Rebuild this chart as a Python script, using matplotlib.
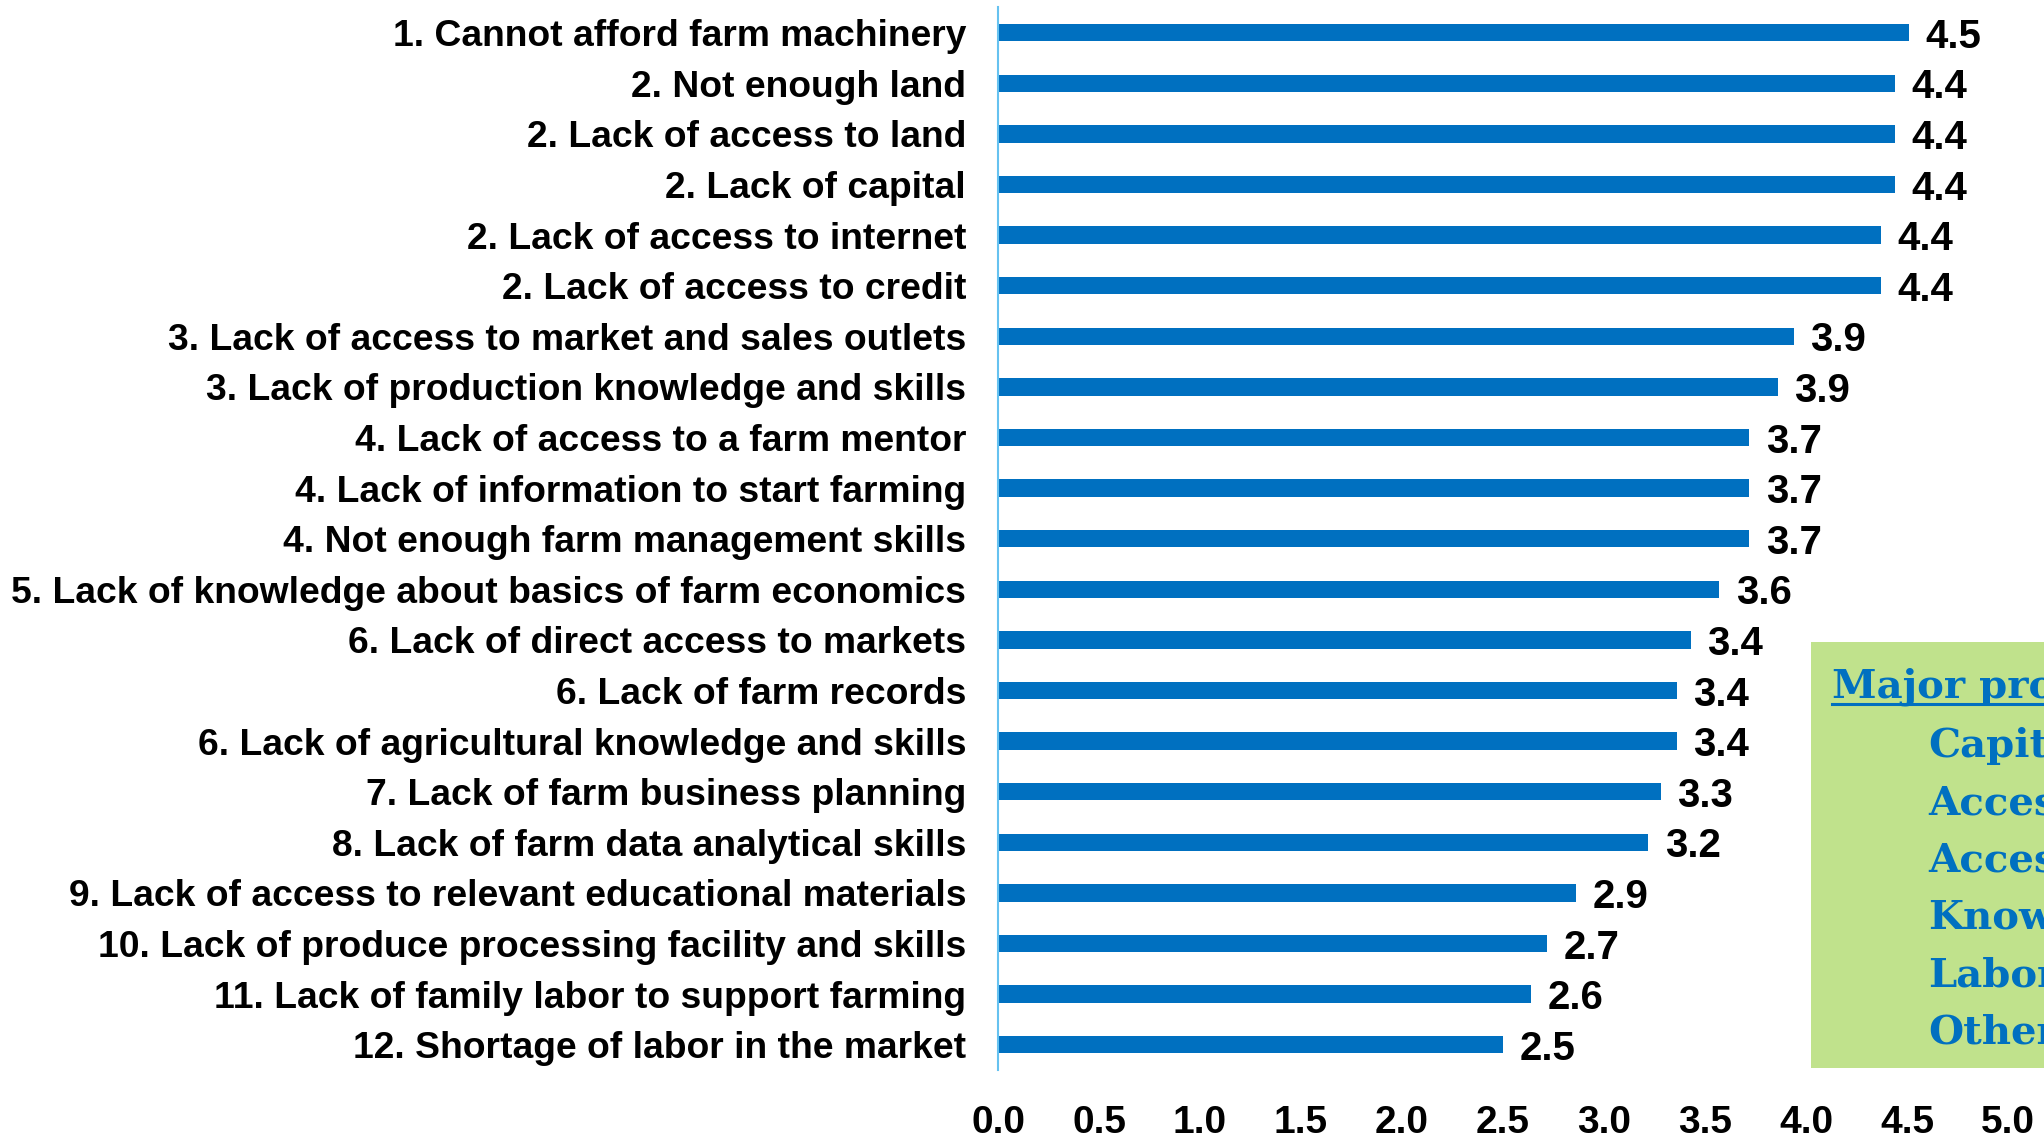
import matplotlib
matplotlib.use("Agg")
import matplotlib.pyplot as plt
from matplotlib.patches import Rectangle
from matplotlib.lines import Line2D

# Mean severity score for each barrier to starting a farm (ranked)
categories = [
    "1. Cannot afford farm machinery",
    "2. Not enough land",
    "2. Lack of access to land",
    "2. Lack of capital",
    "2. Lack of access to internet",
    "2. Lack of access to credit",
    "3. Lack of access to market and sales outlets",
    "3. Lack of production knowledge and skills",
    "4. Lack of access to a farm mentor",
    "4. Lack of information to start farming",
    "4. Not enough farm management skills",
    "5. Lack of knowledge about basics of farm economics",
    "6. Lack of direct access to markets",
    "6. Lack of farm records",
    "6. Lack of agricultural knowledge and skills",
    "7. Lack of farm business planning",
    "8. Lack of farm data analytical skills",
    "9. Lack of access to relevant educational materials",
    "10. Lack of produce processing facility and skills",
    "11. Lack of family labor to support farming",
    "12. Shortage of labor in the market",
]
scores = [4.51, 4.44, 4.44, 4.44, 4.37, 4.37, 3.94, 3.86, 3.72, 3.72, 3.72,
          3.57, 3.43, 3.36, 3.36, 3.28, 3.22, 2.86, 2.72, 2.64, 2.50]
x_ticks = [0.0, 0.5, 1.0, 1.5, 2.0, 2.5, 3.0, 3.5, 4.0, 4.5, 5.0]

box_title = "Major problem categories:"
box_items = ["Capital", "Access to land", "Access to market",
             "Knowledge", "Labor", "Others"]

W, H = 2044, 1138
fig = plt.figure(figsize=(W / 100, H / 100), dpi=100)
ax = fig.add_axes([998 / W, 1 - 1070 / H, 1010 / W, 1062.6 / H])

bar_blue = "#0070C0"
ypos = list(range(len(categories)))
ax.barh(ypos, scores, height=0.34, color=bar_blue)

ax.set_xlim(0, 5)
ax.set_ylim(len(categories) - 0.5, -0.5)
ax.set_xticks(x_ticks)
ax.set_xticklabels([f"{t:.1f}" for t in x_ticks], fontsize=28,
                   fontweight="bold", family="Liberation Sans")
ax.set_yticks(ypos)
ax.set_yticklabels(categories, fontsize=26.8, fontweight="bold",
                   family="Liberation Sans")
ax.tick_params(axis="x", length=0, pad=25)
ax.tick_params(axis="y", length=0, pad=23)

for side in ("top", "right", "bottom"):
    ax.spines[side].set_visible(False)
ax.spines["left"].set_color("#66C2F0")
ax.spines["left"].set_linewidth(1.5)

for y, v in zip(ypos, scores):
    ax.annotate(f"{v:.1f}", xy=(v, y), xytext=(12, -3),
                textcoords="offset points", va="center", ha="left",
                fontsize=29, fontweight="bold", family="Liberation Sans")

# Green callout box listing the problem groups
box_left, box_top, box_bottom = 1811, 642, 1068
fig.patches.append(Rectangle((box_left / W, 1 - box_bottom / H),
                             (W - box_left) / W + 0.01,
                             (box_bottom - box_top) / H,
                             transform=fig.transFigure, facecolor="#C0E28C",
                             edgecolor="none", zorder=0))
text_blue = "#0070C0"
box_font = dict(fontsize=29, fontweight="bold", family="DejaVu Serif",
                color=text_blue, va="baseline", ha="left")
title_base = 697
t = fig.text(1832 / W, 1 - title_base / H, box_title, **box_font)
fig.canvas.draw()
bb = t.get_window_extent()
fig.lines.append(Line2D([bb.x0 / W, min(bb.x1, W) / W],
                        [1 - 704 / H, 1 - 704 / H], transform=fig.transFigure,
                        color=text_blue, linewidth=2.2))
item_base, item_step = 757, 57.3
for i, item in enumerate(box_items):
    fig.text(1928 / W, 1 - (item_base + i * item_step) / H, item, **box_font)

fig.savefig("out.png", dpi=100)
